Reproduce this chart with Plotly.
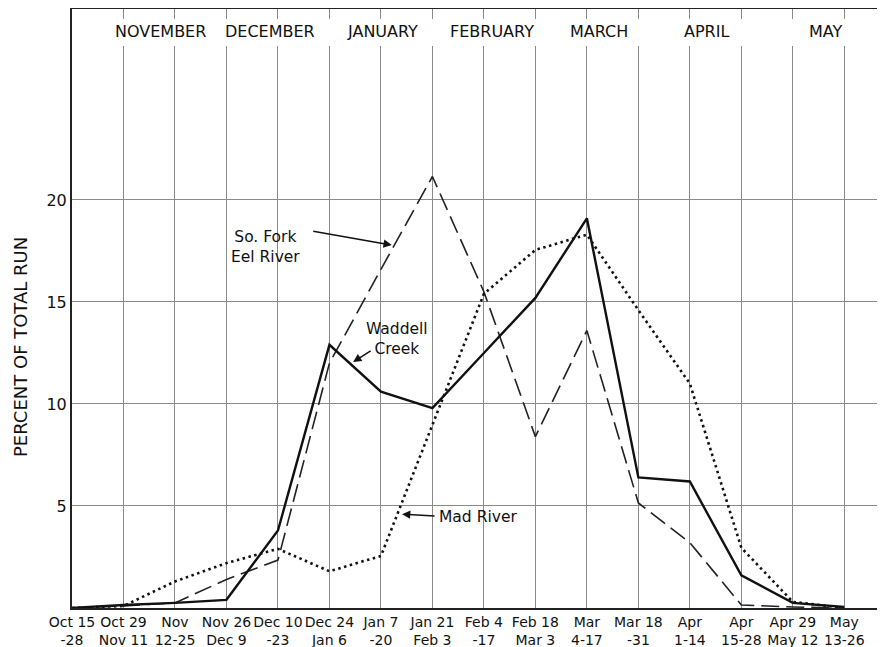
import plotly.graph_objects as go

# ---- data ----
period_start = ["Oct 15", "Oct 29", "Nov", "Nov 26", "Dec 10", "Dec 24", "Jan 7", "Jan 21",
                "Feb 4", "Feb 18", "Mar", "Mar 18", "Apr", "Apr", "Apr 29", "May"]
period_end = ["-28", "Nov 11", "12-25", "Dec 9", "-23", "Jan 6", "-20", "Feb 3",
              "-17", "Mar 3", "4-17", "-31", "1-14", "15-28", "May 12", "13-26"]

waddell_creek = [0.0, 0.15, 0.25, 0.4, 3.8, 12.9, 10.6, 9.8, 12.5, 15.2, 19.1, 6.4, 6.2, 1.6, 0.25, 0.05]
eel_river = [0.0, 0.1, 0.25, 1.4, 2.35, 12.0, 16.6, 21.15, 15.5, 8.4, 13.6, 5.15, 3.2, 0.15, 0.05, 0.0]
mad_river = [0.0, 0.1, 1.3, 2.2, 2.9, 1.8, 2.55, 9.0, 15.4, 17.55, 18.3, 14.6, 11.0, 2.95, 0.3, 0.0]

months = ["NOVEMBER", "DECEMBER", "JANUARY", "FEBRUARY", "MARCH", "APRIL", "MAY"]
y_ticks = [5, 10, 15, 20]

# ---- layout helpers ----
month_pos = [1.71, 3.84, 6.04, 8.16, 10.23, 12.33, 14.64]
x_idx = list(range(len(period_start)))
tick_text = [f"{a}<br>{b}" for a, b in zip(period_start, period_end)]
FONT = "DejaVu Sans"

# the page body has an 8px margin, so the figure is 8px smaller than the window
W, H = 877, 639
ML, MT, MB = 64, 1, 39
PLOT_W = W - ML
PLOT_H = H - MT - MB
YMAX = 29.36

fig = go.Figure()
fig.add_trace(go.Scatter(x=x_idx, y=eel_river, mode="lines", name="So. Fork Eel River",
                         line=dict(color="#222", width=1.6, dash="18px,7px")))
fig.add_trace(go.Scatter(x=x_idx, y=mad_river, mode="lines", name="Mad River",
                         line=dict(color="#111", width=2.6, dash="2.5px,3.5px")))
fig.add_trace(go.Scatter(x=x_idx, y=waddell_creek, mode="lines", name="Waddell Creek",
                         line=dict(color="#111", width=2.4)))

# white band behind month names, breaking the vertical grid
fig.add_shape(type="rect", xref="paper", yref="y", x0=0.004, x1=1.0, y0=27.55, y1=28.87,
              fillcolor="white", line=dict(width=0), layer="above")

for name, pos in zip(months, month_pos):
    fig.add_annotation(x=pos, y=28.25, xref="x", yref="y", text=name, showarrow=False,
                       font=dict(family=FONT, size=16, color="#111"))

ann_font = dict(family=FONT, size=15.5, color="#111")
fig.add_annotation(x=3.75, y=17.7, text="So. Fork<br>Eel River", showarrow=False, font=ann_font)
fig.add_annotation(x=6.31, y=13.19, text="Waddell<br>Creek", showarrow=False, font=ann_font)
fig.add_annotation(x=7.88, y=4.46, text="Mad River", showarrow=False, font=ann_font)

arrow = dict(showarrow=True, arrowhead=2, arrowsize=1.1, arrowwidth=1.5, arrowcolor="#111", text="")
fig.add_annotation(x=6.21, y=17.79, ax=-80, ay=-14, **arrow)
fig.add_annotation(x=5.46, y=12.06, ax=19, ay=-12, **arrow)
fig.add_annotation(x=6.41, y=4.6, ax=34, ay=2, **arrow)

fig.add_annotation(xref="paper", yref="paper",
                   x=(12 - ML) / PLOT_W, y=1 - (339 - MT) / PLOT_H,
                   xanchor="center", yanchor="middle",
                   text="PERCENT OF TOTAL RUN", textangle=-90, showarrow=False,
                   font=dict(family=FONT, size=18, color="#111"))

fig.update_layout(
    width=W, height=H,
    margin=dict(l=ML, r=0, t=MT, b=MB, autoexpand=False),
    paper_bgcolor="white", plot_bgcolor="white",
    showlegend=False,
    font=dict(family=FONT, color="#111"),
)

fig.update_xaxes(
    range=[0, 15.79], tickmode="array", tickvals=x_idx, ticktext=tick_text, tickangle=0,
    showgrid=True, gridcolor="#8a8a8a", gridwidth=1,
    showline=True, linecolor="#222", linewidth=2, mirror=True,
    ticks="", tickfont=dict(family=FONT, size=14, color="#111"), zeroline=False,
)
fig.update_yaxes(
    range=[0, YMAX], tickmode="array", tickvals=y_ticks, ticktext=[str(v) for v in y_ticks],
    showgrid=True, gridcolor="#8a8a8a", gridwidth=1,
    showline=True, linecolor="#222", linewidth=2, mirror=False,
    ticks="", tickfont=dict(family=FONT, size=16, color="#111"), zeroline=False,
)

fig.write_html("out.html")
